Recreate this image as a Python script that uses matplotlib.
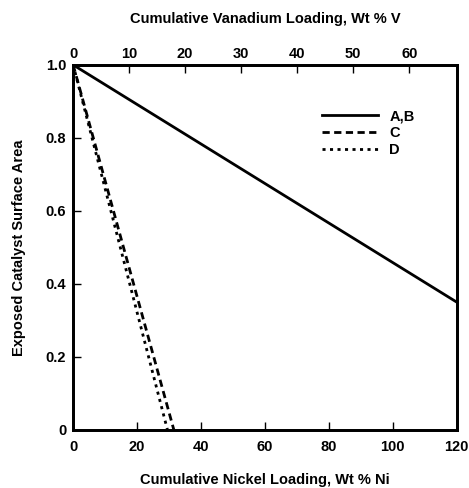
import matplotlib
matplotlib.use('Agg')
import matplotlib.pyplot as plt

plt.rcParams['font.family'] = ['Liberation Sans', 'DejaVu Sans']
plt.rcParams['font.weight'] = 'bold'

# data: lines of exposed surface area vs cumulative nickel loading
ab_x = [0, 120]
ab_y = [1.0, 0.35]
c_x = [0, 31.5]
c_y = [1.0, 0.0]
d_x = [0, 29.5]
d_y = [1.0, 0.0]

ni_ticks = [0, 20, 40, 60, 80, 100, 120]
v_ticks = [0, 10, 20, 30, 40, 50, 60]
v_max = 68.5  # vanadium scale at 120 wt % Ni
y_ticks = [0, 0.2, 0.4, 0.6, 0.8, 1.0]
y_labels = ['0', '0.2', '0.4', '0.6', '0.8', '1.0']

fig = plt.figure(figsize=(4.69, 4.88), dpi=100)
ax = fig.add_axes([0.156, 0.119, 0.818, 0.748])

ax.plot(ab_x, ab_y, 'k-', lw=2, label='A,B')
ax.plot(c_x, c_y, 'k--', lw=2, dashes=(2.6, 1.6), label='C')
ax.plot(d_x, d_y, 'k--', lw=2, dashes=(1.1, 1.6), label='D')

ax.set_xlim(0, 120)
ax.set_ylim(0, 1.0)
ax.set_xticks(ni_ticks)
ax.set_yticks(y_ticks)
ax.set_yticklabels(y_labels)
ax.tick_params(direction='in', length=6, width=1, labelsize=10.5, pad=7)
ax.tick_params(axis='y', pad=5)
for s in ax.spines.values():
    s.set_linewidth(2)

ax.set_xlabel('Cumulative Nickel Loading, Wt % Ni', fontsize=10.5, fontweight='bold', labelpad=14)
ax.set_ylabel('Exposed Catalyst Surface Area', fontsize=10.5, fontweight='bold', labelpad=14)

top = ax.twiny()
top.set_xlim(0, v_max)
top.set_xticks(v_ticks)
top.tick_params(direction='in', length=6, width=1, labelsize=10.5, pad=3)
top.set_xlabel('Cumulative Vanadium Loading, Wt % V', fontsize=10.5, fontweight='bold', labelpad=17)
for s in top.spines.values():
    s.set_linewidth(2)

leg = ax.legend(loc='upper left', bbox_to_anchor=(0.615, 0.915), frameon=False,
                handlelength=3.8, handletextpad=0.8, labelspacing=0.2, fontsize=10.5)

fig.savefig('out.png', dpi=100)
